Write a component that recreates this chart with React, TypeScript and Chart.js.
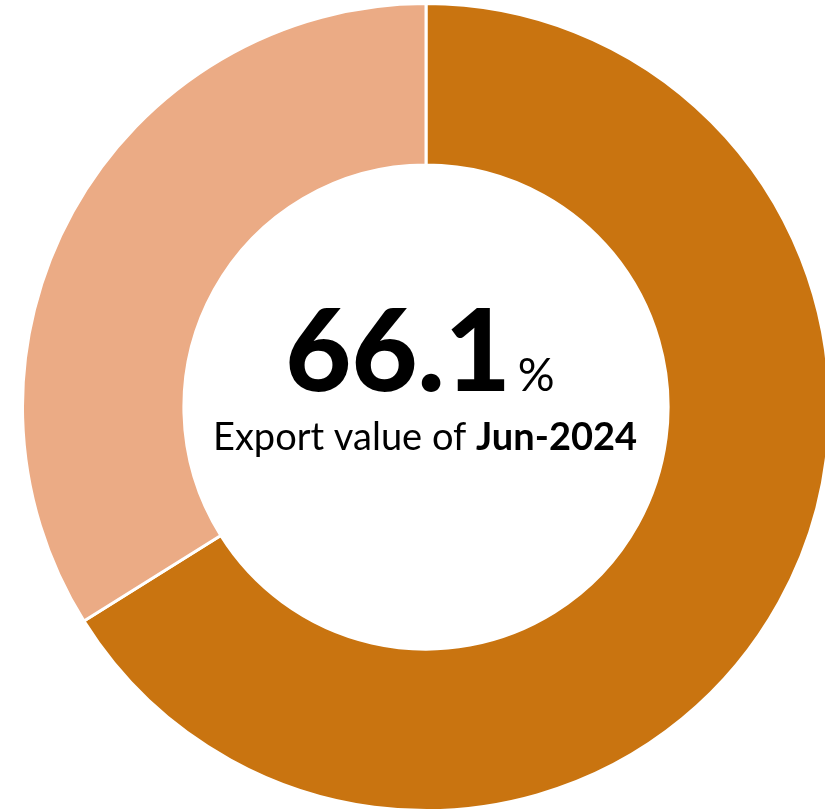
import React, { useEffect, useRef } from "react";
import { Chart, registerables } from "chart.js";

Chart.register(...registerables);

const labels = ["Jun-2024", "Other"];
const values = [66.1, 33.9];
const colors = ["#C97410", "#EBAB85"];
const bigText = "66.1";
const unitText = "%";
const subText = "Export value of ";
const subBold = "Jun-2024";

const centerText = {
  id: "centerText",
  afterDraw(chart: any) {
    const ctx = chart.ctx;
    const meta = chart.getDatasetMeta(0);
    const arc = meta.data[0];
    const cx = arc.x;
    const cy = arc.y;
    ctx.save();
    ctx.fillStyle = "#000";
    ctx.textBaseline = "alphabetic";
    ctx.textAlign = "left";
    const bigFont = "900 114px Lato";
    const unitFont = "46px Lato";
    ctx.font = bigFont;
    const wBig = ctx.measureText(bigText).width;
    ctx.font = unitFont;
    const wUnit = ctx.measureText(unitText).width;
    const gap = 7;
    const total = wBig + gap + wUnit;
    let x = cx - 6 - total / 2;
    const y1 = cy - 16;
    ctx.font = bigFont;
    ctx.fillText(bigText, x, y1);
    ctx.font = unitFont;
    ctx.fillText(unitText, x + wBig + gap, y1);

    const f1 = "38px Lato";
    const f2 = "bold 38px Lato";
    ctx.font = f1;
    const w1 = ctx.measureText(subText).width;
    ctx.font = f2;
    const w2 = ctx.measureText(subBold).width;
    let x2 = cx - 1 - (w1 + w2) / 2;
    const y2 = cy + 43;
    ctx.font = f1;
    ctx.fillText(subText, x2, y2);
    ctx.font = f2;
    ctx.fillText(subBold, x2 + w1, y2);
    ctx.restore();
  },
};

export default function App() {
  const ref = useRef<HTMLCanvasElement>(null);
  useEffect(() => {
    if (!ref.current) return;
    const chart = new Chart(ref.current, {
      type: "doughnut",
      data: {
        labels,
        datasets: [
          {
            data: values,
            backgroundColor: colors,
            borderColor: "#FFFFFF",
            borderWidth: 3,
          },
        ],
      },
      options: {
        animation: false,
        responsive: false,
        cutout: "60%",
        layout: { padding: 0 },
        plugins: {
          legend: { display: false },
          tooltip: { enabled: false },
        },
      },
      plugins: [centerText],
    });
    return () => chart.destroy();
  }, []);
  return (
    <div
      style={{
        position: "fixed",
        left: 0,
        top: 0,
        width: 825,
        height: 810,
        overflow: "hidden",
        background: "#fff",
      }}
    >
      <canvas
        ref={ref}
        width={810}
        height={810}
        style={{ position: "absolute", left: 21, top: 2, width: 810, height: 810 }}
      />
    </div>
  );
}
